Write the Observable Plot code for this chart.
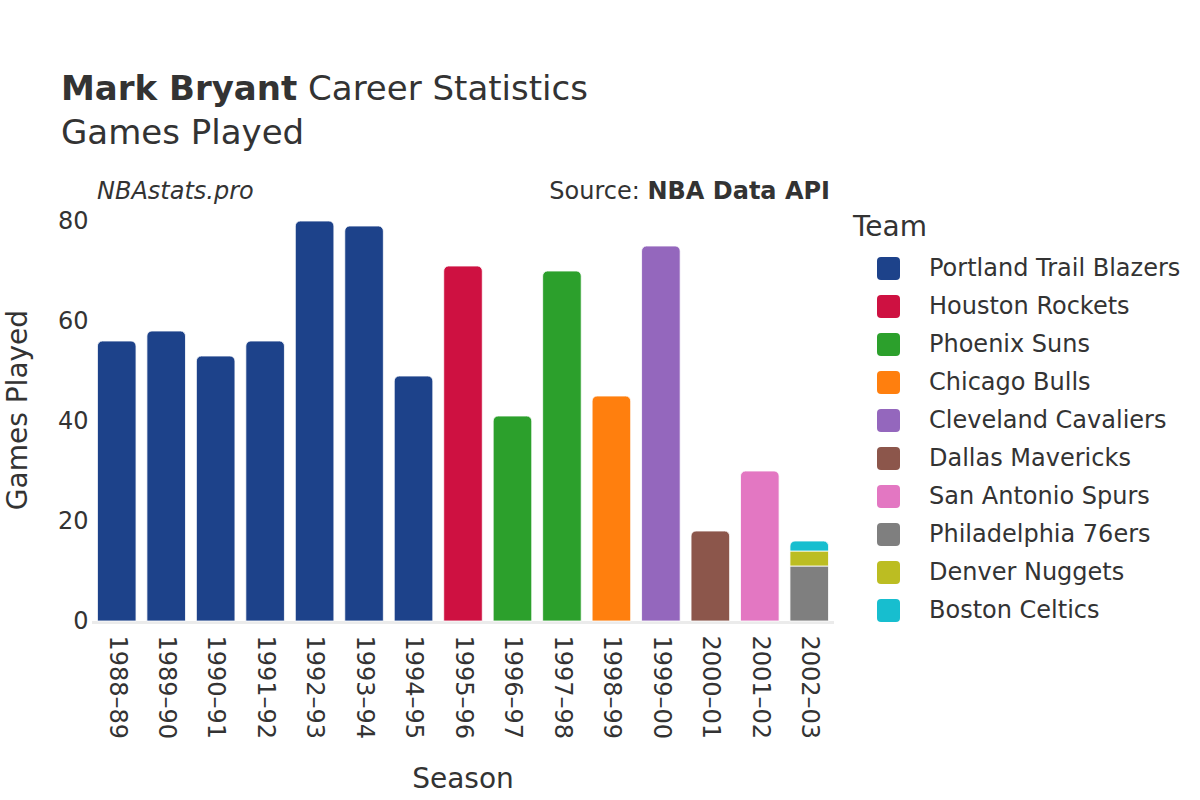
<!DOCTYPE html>
<html>
<head>
<meta charset="utf-8">
<script src="https://cdn.jsdelivr.net/npm/d3@7"></script>
<script src="https://cdn.jsdelivr.net/npm/@observablehq/plot@0.6"></script>
<style>
  html, body { margin: 0; padding: 0; background: #fff; }
  body { font-family: "DejaVu Sans", sans-serif; color: #333; }
  #wrap { position: relative; width: 1200px; height: 800px; overflow: hidden; }
  .abs { position: absolute; white-space: nowrap; }
  #chart { position: absolute; left: 0; top: 0; }
</style>
</head>
<body>
<div id="wrap">
  <div id="chart"></div>
  <div class="abs" style="left:61px; top:68px; font-size:34px; color:#333;"><b>Mark Bryant</b> Career Statistics</div>
  <div class="abs" style="left:61px; top:112px; font-size:34px; color:#333;">Games Played</div>
  <div class="abs" style="left:97px; top:177px; font-size:24px; font-style:italic; color:#333;">NBAstats.pro</div>
  <div class="abs" style="right:370px; top:177px; font-size:24px; color:#333;">Source: <b>NBA Data API</b></div>
  <div class="abs" style="left:463px; top:762px; font-size:28px; color:#333; transform:translateX(-50%);">Season</div>
  <div class="abs" style="left:17px; top:410px; font-size:28px; color:#333; transform:translate(-50%,-50%) rotate(-90deg);">Games Played</div>
  <div id="legend" class="abs" style="left:853px; top:209px;"></div>
</div>
<script>
const seasons = ["1988–89","1989–90","1990–91","1991–92","1992–93","1993–94","1994–95","1995–96","1996–97","1997–98","1998–99","1999–00","2000–01","2001–02","2002–03"];
const teams = ["Portland Trail Blazers","Houston Rockets","Phoenix Suns","Chicago Bulls","Cleveland Cavaliers","Dallas Mavericks","San Antonio Spurs","Philadelphia 76ers","Denver Nuggets","Boston Celtics"];
const teamColors = ["#1D428A","#CE1141","#2CA02C","#FF7F0E","#9467BD","#8C564B","#E377C2","#7F7F7F","#BCBD22","#17BECF"];
// one entry per season/team segment (stacked in this order)
const rowSeason = ["1988–89","1989–90","1990–91","1991–92","1992–93","1993–94","1994–95","1995–96","1996–97","1997–98","1998–99","1999–00","2000–01","2001–02","2002–03","2002–03","2002–03"];
const rowTeam = ["Portland Trail Blazers","Portland Trail Blazers","Portland Trail Blazers","Portland Trail Blazers","Portland Trail Blazers","Portland Trail Blazers","Portland Trail Blazers","Houston Rockets","Phoenix Suns","Phoenix Suns","Chicago Bulls","Cleveland Cavaliers","Dallas Mavericks","San Antonio Spurs","Philadelphia 76ers","Denver Nuggets","Boston Celtics"];
const rowGames = [56,58,53,56,80,79,49,71,41,70,45,75,18,30,11,3,2];
const yTicks = [0,20,40,60,80];

const data = rowSeason.map((s, i) => ({
  season: s, team: rowTeam[i], games: rowGames[i],
  top: rowSeason.lastIndexOf(s) === i ? 1 : 0
}));

const chart = Plot.plot({
  width: 1200,
  height: 800,
  marginLeft: 92,
  marginRight: 366,
  marginTop: 221,
  marginBottom: 179,
  style: { fontFamily: "DejaVu Sans, sans-serif", fontSize: "24px", color: "#333", background: "transparent" },
  x: { domain: seasons, round: false, paddingInner: 0.22, paddingOuter: 0.11, label: null, tickSize: 0, tickPadding: 14, tickRotate: 90 },
  y: { domain: [0, 80], ticks: yTicks, label: null, tickSize: 0, tickPadding: 4 },
  color: { domain: teams, range: teamColors },
  opacity: { type: "identity" },
  marks: [
    Plot.ruleY([0], { stroke: "#ebebeb", strokeWidth: 3, dy: 1 }),
    Plot.ruleY(yTicks.filter(t => t > 0), { stroke: "#aaa", strokeWidth: 1, x1: null }),
    Plot.barY(data, { x: "season", y: "games", fill: "team", fillOpacity: d => d.top ? 0 : 1, stroke: "white", strokeOpacity: d => d.top ? 0 : 1, strokeWidth: 0.8 }),
    Plot.barY(data, { x: "season", y: "games", fill: "team", fillOpacity: d => d.top ? 1 : 0, stroke: "white", strokeOpacity: d => d.top ? 1 : 0, strokeWidth: 0.8, ry1: 5, rx1y1: 5, rx2y1: 5 }),
    Plot.axisX({ tickSize: 0, tickPadding: 14, tickRotate: 90, label: null, fontSize: 24 }),
    Plot.axisY({ ticks: yTicks, tickSize: 0, tickPadding: 4, label: null, fontSize: 24 })
  ]
});
document.getElementById("chart").appendChild(chart);

// legend
const legend = document.getElementById("legend");
const head = document.createElement("div");
head.textContent = "Team";
head.style.cssText = "font-size:28px;color:#333;height:40px;line-height:36px;";
legend.appendChild(head);
teams.forEach((t, i) => {
  const row = document.createElement("div");
  row.style.cssText = "display:flex;align-items:center;height:38px;";
  const sw = document.createElement("span");
  sw.style.cssText = `display:inline-block;width:23px;height:23px;border-radius:4px;background:${teamColors[i]};margin-left:24px;margin-right:29px;`;
  const lb = document.createElement("span");
  lb.textContent = t;
  lb.style.cssText = "font-size:24px;color:#333;";
  row.appendChild(sw); row.appendChild(lb);
  legend.appendChild(row);
});
</script>
</body>
</html>
